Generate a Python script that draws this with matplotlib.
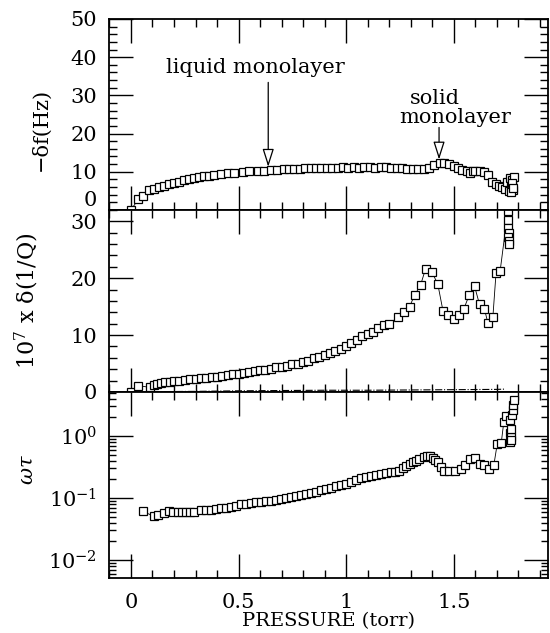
import numpy as np
import matplotlib
matplotlib.use("Agg")
import matplotlib.pyplot as plt
from matplotlib.ticker import MultipleLocator, LogLocator, NullFormatter

plt.rcParams['font.family'] = ['DejaVu Serif']
plt.rcParams['mathtext.fontset'] = 'dejavuserif'

# panel a: -delta f (Hz)
p_df = [0.000, 0.034, 0.057, 0.085, 0.109, 0.132, 0.155, 0.178, 0.202, 0.225,
        0.248, 0.271, 0.295, 0.318, 0.341, 0.364, 0.388, 0.419, 0.450, 0.481,
        0.520, 0.550, 0.590, 0.620, 0.650, 0.680, 0.710, 0.735, 0.760, 0.785,
        0.810, 0.835, 0.860, 0.885, 0.910, 0.935, 0.960, 0.985, 1.010, 1.035,
        1.060, 1.085, 1.110, 1.135, 1.160, 1.185, 1.210, 1.235, 1.260, 1.285,
        1.310, 1.335, 1.360, 1.385, 1.410, 1.435, 1.456, 1.480, 1.500, 1.520,
        1.540, 1.560, 1.575, 1.590, 1.600, 1.620, 1.640, 1.660, 1.680, 1.695,
        1.710, 1.725, 1.740, 1.750, 1.755, 1.760, 1.765, 1.770, 1.775, 1.780,
        1.765, 1.772, 1.778]
df = [0.0, 2.8, 3.7, 5.3, 5.4, 5.9, 6.4, 6.8, 7.0, 7.4,
      7.9, 8.1, 8.3, 8.6, 8.8, 9.0, 9.2, 9.5, 9.6, 9.8,
      10.0, 10.1, 10.2, 10.3, 10.4, 10.5, 10.6, 10.7, 10.8, 10.8,
      10.9, 11.0, 11.0, 11.0, 11.1, 11.1, 11.1, 11.2, 11.1, 11.2,
      11.1, 11.2, 11.2, 11.1, 11.2, 11.2, 11.1, 11.1, 11.0, 10.8,
      10.6, 10.6, 10.6, 11.1, 11.7, 12.2, 12.4, 12.1, 11.4, 11.0,
      10.4, 10.1, 9.8, 10.1, 10.3, 10.2, 9.9, 9.2, 7.2, 6.8,
      6.2, 6.0, 5.6, 7.4, 5.0, 8.4, 6.2, 7.8, 5.3, 8.6,
      4.6, 7.0, 5.8]

# panel b: 10^7 x delta(1/Q)
p_q = [0.000, 0.034, 0.090, 0.105, 0.120, 0.140, 0.160, 0.180, 0.200, 0.225,
       0.250, 0.275, 0.300, 0.325, 0.350, 0.375, 0.400, 0.425, 0.450, 0.475,
       0.500, 0.525, 0.550, 0.575, 0.600, 0.625, 0.650, 0.675, 0.700, 0.725,
       0.750, 0.775, 0.800, 0.825, 0.850, 0.875, 0.900, 0.925, 0.950, 0.975,
       1.000, 1.025, 1.050, 1.075, 1.100, 1.125, 1.150, 1.175, 1.200, 1.240,
       1.268, 1.295, 1.318, 1.346, 1.369, 1.398, 1.426, 1.450, 1.473, 1.500,
       1.527, 1.547, 1.573, 1.597, 1.620, 1.643, 1.659, 1.682, 1.697, 1.716,
       1.752, 1.752, 1.754, 1.756, 1.754, 1.757, 1.755]
q = [0.0, 1.1, 0.8, 1.2, 1.4, 1.5, 1.7, 1.8, 1.9, 2.0,
     2.1, 2.2, 2.3, 2.4, 2.5, 2.6, 2.7, 2.8, 3.0, 3.1,
     3.2, 3.4, 3.5, 3.6, 3.8, 3.9, 4.1, 4.3, 4.4, 4.6,
     4.9, 5.0, 5.3, 5.5, 5.9, 6.2, 6.5, 6.8, 7.2, 7.6,
     8.1, 8.6, 9.1, 9.9, 10.2, 10.6, 11.3, 11.8, 12.0, 13.1,
     14.1, 15.0, 17.0, 18.8, 21.6, 21.1, 19.0, 14.3, 13.6, 12.9,
     13.6, 14.6, 17.1, 18.6, 15.4, 14.6, 12.1, 13.1, 21.0, 21.3,
     31.9, 30.2, 28.8, 28.0, 27.3, 26.6, 26.1]

# dash-dot baseline in panel b
p_q0 = [0.10, 0.30, 0.50, 0.70, 0.90, 1.10, 1.30, 1.50, 1.70, 1.74]
q0 = [0.05, 0.10, 0.20, 0.25, 0.30, 0.30, 0.35, 0.40, 0.45, 0.50]

# panel c: omega tau
p_wt = [0.054, 0.105, 0.124, 0.155, 0.178, 0.197, 0.217, 0.236, 0.256, 0.275,
        0.295, 0.326, 0.350, 0.372, 0.395, 0.419, 0.442, 0.465, 0.490, 0.512,
        0.535, 0.558, 0.580, 0.605, 0.628, 0.651, 0.675, 0.698, 0.721, 0.744,
        0.767, 0.791, 0.814, 0.837, 0.860, 0.884, 0.907, 0.930, 0.953, 0.977,
        1.000, 1.023, 1.046, 1.070, 1.093, 1.116, 1.140, 1.163, 1.186, 1.209,
        1.228, 1.248, 1.264, 1.279, 1.295, 1.310, 1.326, 1.341, 1.360, 1.377,
        1.390, 1.403, 1.415, 1.426, 1.440, 1.454, 1.480, 1.507, 1.532, 1.554,
        1.578, 1.600, 1.620, 1.643, 1.662, 1.687, 1.702, 1.721, 1.733, 1.744,
        1.760, 1.760, 1.762, 1.765, 1.765, 1.768, 1.770, 1.775, 1.778, 1.780]
wt = [0.061, 0.051, 0.054, 0.058, 0.061, 0.060, 0.059, 0.060, 0.060, 0.059,
      0.060, 0.063, 0.064, 0.065, 0.066, 0.068, 0.070, 0.072, 0.075, 0.079,
      0.081, 0.084, 0.085, 0.086, 0.088, 0.089, 0.093, 0.097, 0.100, 0.104,
      0.107, 0.110, 0.115, 0.121, 0.127, 0.133, 0.140, 0.147, 0.154, 0.161,
      0.170, 0.182, 0.193, 0.207, 0.215, 0.223, 0.232, 0.243, 0.250, 0.259,
      0.266, 0.275, 0.300, 0.324, 0.350, 0.377, 0.400, 0.427, 0.460, 0.484,
      0.470, 0.443, 0.410, 0.377, 0.320, 0.275, 0.270, 0.270, 0.293, 0.345,
      0.427, 0.443, 0.354, 0.341, 0.293, 0.345, 0.730, 0.770, 1.69, 2.09,
      1.10, 0.79, 1.80, 0.95, 1.30, 0.85, 2.20, 2.60, 3.20, 3.80]

fig = plt.figure(figsize=(5.5, 6.33), dpi=100)
gs = fig.add_gridspec(3, 1, height_ratios=[191, 182, 186], hspace=0,
                      left=0.199, right=0.997, top=0.97, bottom=0.087)
ax1 = fig.add_subplot(gs[0])
ax2 = fig.add_subplot(gs[1], sharex=ax1)
ax3 = fig.add_subplot(gs[2], sharex=ax1)

mk = dict(marker='s', ms=5.8, mfc='white', mec='black', mew=0.9,
          color='black', lw=0.6)

ax1.plot(p_df, df, **mk)
ax2.plot(p_q0, q0, color='black', lw=0.8, ls='-.')
ax2.plot(p_q, q, **mk)
ax3.plot(p_wt, wt, **mk)

ax1.set_xlim(-0.1, 1.94)
ax1.set_ylim(0, 50)
ax2.set_ylim(0, 32)
ax3.set_yscale('log')
ax3.set_ylim(10 ** -2.29, 10 ** 0.71)

fs = 15
for ax in (ax1, ax2, ax3):
    ax.xaxis.set_major_locator(MultipleLocator(0.5))
    ax.xaxis.set_minor_locator(MultipleLocator(0.1))
    ax.tick_params(which='both', direction='in', top=True, right=True,
                   labelsize=fs, width=1.0, pad=9)
    ax.tick_params(which='major', length=17)
    ax.tick_params(which='minor', length=5.5)
    for s in ax.spines.values():
        s.set_linewidth(1.3)

for ax in (ax1, ax2):
    ax.yaxis.set_major_locator(MultipleLocator(10))
    ax.yaxis.set_minor_locator(MultipleLocator(2))
    ax.tick_params(labelbottom=False)

ax3.yaxis.set_major_locator(LogLocator(base=10, numticks=10))
ax3.yaxis.set_minor_locator(LogLocator(base=10, subs=np.arange(2, 10), numticks=20))
ax3.yaxis.set_minor_formatter(NullFormatter())
ax3.tick_params(axis='y', which='minor', length=5)
ax3.tick_params(axis='x', which='both', pad=11)
ax3.set_xticks([0, 0.5, 1, 1.5])
ax3.set_xticklabels(['0', '0.5', '1', '1.5'])

# keep the top panel's "0" above the panel joint so it does not sit on "30"
fig.canvas.draw()
for lab in ax1.get_yticklabels():
    if lab.get_text() == '0':
        lab.set_verticalalignment('bottom')

ax1.set_ylabel('\u2212\u03b4f(Hz)', fontsize=fs)
ax1.yaxis.set_label_coords(-0.135, 0.42)
ax2.set_ylabel('$10^7$ x \u03b4(1/Q)', fontsize=16)
ax2.yaxis.set_label_coords(-0.155, 0.5)
ax3.set_ylabel(r'$\omega\tau$', fontsize=fs)
ax3.yaxis.set_label_coords(-0.165, 0.58)
ax3.set_xlabel('PRESSURE (torr)', fontsize=14, labelpad=0)

arrow = dict(arrowstyle='-|>,head_length=1.1,head_width=0.35',
             fc='white', ec='black', lw=0.9, shrinkA=0, shrinkB=0)
ax1.annotate('', xy=(0.638, 11.3), xytext=(0.638, 33.4), arrowprops=arrow)
ax1.annotate('', xy=(1.432, 13.2), xytext=(1.432, 21.6), arrowprops=arrow)
ax1.text(0.58, 35.8, 'liquid monolayer', fontsize=fs, ha='center', va='baseline')
ax1.text(1.412, 27.8, 'solid', fontsize=fs, ha='center', va='baseline')
ax1.text(1.509, 22.8, 'monolayer', fontsize=fs, ha='center', va='baseline')

plt.savefig('out.png', dpi=100)
plt.close()
